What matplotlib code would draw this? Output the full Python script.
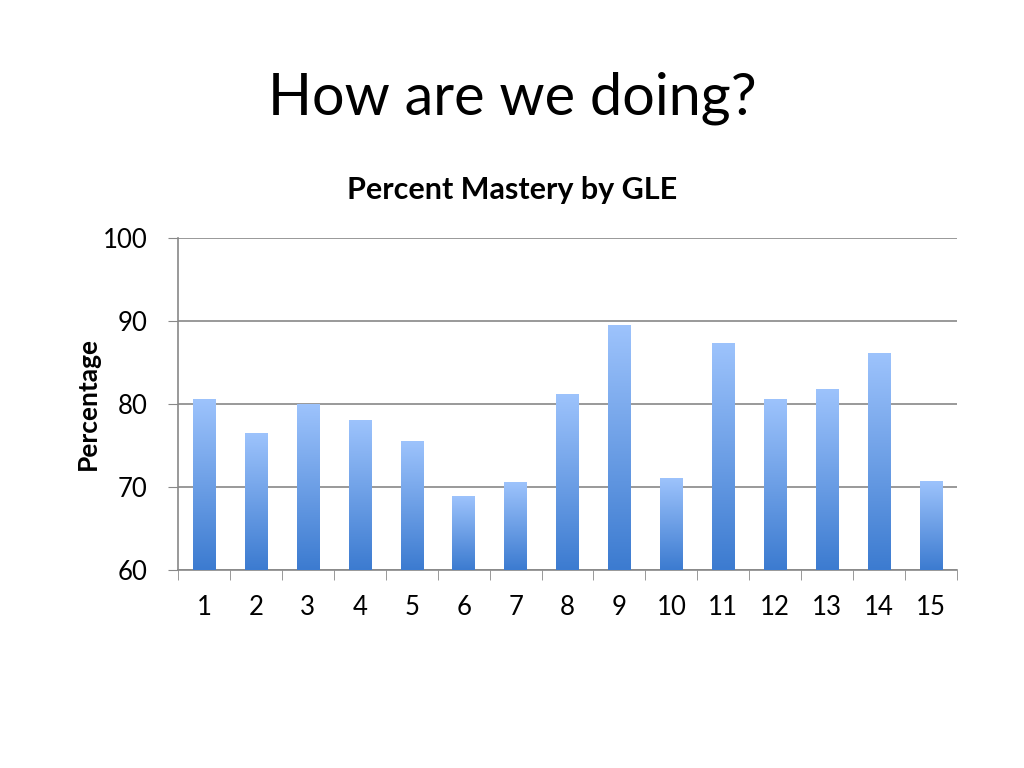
import numpy as np
import matplotlib.pyplot as plt
from matplotlib.colors import LinearSegmentedColormap

# -----------------------------
# Data
# -----------------------------
gle = [1, 2, 3, 4, 5, 6, 7, 8, 9, 10, 11, 12, 13, 14, 15]
mastery = [80.5, 76.5, 80.0, 78.0, 75.5, 68.9, 70.6, 81.1, 89.5,
           71.0, 87.3, 80.6, 81.8, 86.1, 70.7]
y_ticks = [60, 70, 80, 90, 100]

plt.rcParams['font.family'] = ['Lato', 'DejaVu Sans']

fig = plt.figure(figsize=(10.24, 7.68), dpi=100)
ax = fig.add_axes([178 / 1024, 1 - 570 / 768, 779 / 1024, 332 / 768])

# bottom dark -> top light, one gradient per bar
cmap = LinearSegmentedColormap.from_list("bar", ["#3c7bd0", "#9dc3fc"])
grad = np.linspace(0, 1, 256).reshape(-1, 1)
width = 0.43

for x, v in zip(gle, mastery):
    ax.imshow(grad, cmap=cmap, origin="lower", aspect="auto",
              extent=(x - width / 2, x + width / 2, 60, v), zorder=3)

ax.set_xlim(0.5, 15.5)
ax.set_ylim(60, 100)
ax.set_yticks(y_ticks)
ax.set_xticks(gle)
ax.set_xticks(np.arange(0.5, 16, 1), minor=True)
ax.tick_params(axis="x", which="major", length=0, pad=18, labelsize=18.5)
ax.tick_params(axis="x", which="minor", length=7, color="#888888", direction="out")
ax.tick_params(axis="y", length=7, color="#888888", labelsize=18.5, pad=15)

ax.grid(axis="y", color="#888888", linewidth=1.2, zorder=0)
ax.set_axisbelow(True)
for side in ["top", "right"]:
    ax.spines[side].set_visible(False)
for side in ["left", "bottom"]:
    ax.spines[side].set_color("#888888")
    ax.spines[side].set_linewidth(1.2)

ax.set_ylabel("Percentage", fontsize=19, fontweight="bold", labelpad=2)

fig.text(0.5, 1 - 190 / 768, "Percent Mastery by GLE", ha="center",
         va="center", fontsize=22, fontweight="bold")
fig.text(0.5, 1 - 98 / 768, "How are we doing?", ha="center", va="center",
         fontsize=41.5)

fig.savefig("out.png", dpi=100)
